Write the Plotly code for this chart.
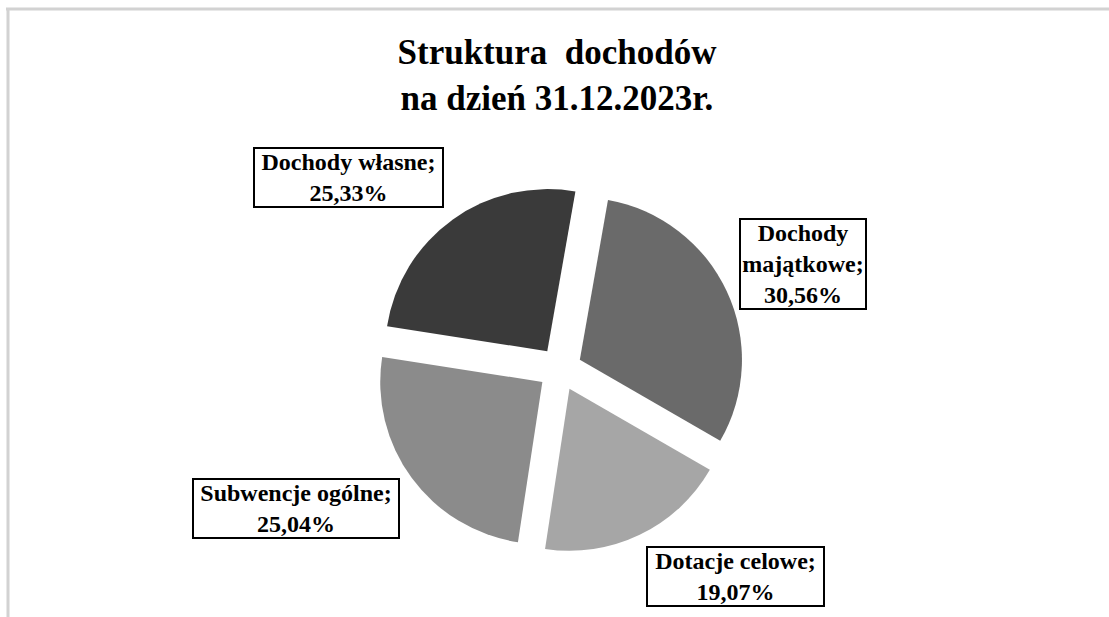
import plotly.graph_objects as go

# ---- data ----
categories = ["Dochody majątkowe", "Dotacje celowe", "Subwencje ogólne", "Dochody własne"]
category_display = ["Dochody<br>majątkowe", "Dotacje celowe", "Subwencje ogólne", "Dochody własne"]
shares = [30.56, 19.07, 25.04, 25.33]
colors = ["#6a6a6a", "#a6a6a6", "#8b8b8b", "#3a3a3a"]
title_lines = ["Struktura  dochodów", "na dzień 31.12.2023r."]

W, H = 1109, 617
SERIF = "Times New Roman, Liberation Serif, serif"

def px(x):
    return x / W

def py(y):
    return 1 - y / H

fig = go.Figure()
fig.add_trace(go.Pie(
    labels=categories,
    values=shares,
    sort=False,
    direction="clockwise",
    rotation=10,
    pull=[0.135] * len(shares),
    marker=dict(colors=colors, line=dict(width=0)),
    textinfo="none",
    hoverinfo="label+percent",
    showlegend=False,
    domain=dict(x=[px(376), px(744)], y=[py(553), py(185)]),
))

# label boxes (center positions in pixels)
label_pos = [(803, 264, 128), (735.5, 576.5, 179), (296, 508, 208), (348.5, 177.5, 191)]
annotations = []
for disp, v, (cx, cy, bw) in zip(category_display, shares, label_pos):
    txt = f"{disp};<br>{v:.2f}".replace(".", ",") + "%"
    annotations.append(dict(
        text=txt, x=px(cx), y=py(cy), xref="paper", yref="paper",
        xanchor="center", yanchor="middle", showarrow=False,
        font=dict(family=SERIF, size=24, color="#000000", weight="bold"),
        bordercolor="#000000", borderwidth=2, borderpad=0,
        bgcolor="#ffffff", width=bw - 4, align="center",
    ))

fig.update_layout(
    width=W, height=H,
    margin=dict(l=0, r=0, t=0, b=0),
    paper_bgcolor="#ffffff",
    plot_bgcolor="#ffffff",
    title=dict(
        text="<br>".join(title_lines),
        x=px(557), xanchor="center", y=py(64), yanchor="middle",
        font=dict(family=SERIF, size=35, color="#000000", weight="bold"),
    ),
    annotations=annotations,
    shapes=[
        dict(type="line", xref="paper", yref="paper", x0=px(6), x1=1, y0=py(9), y1=py(9),
             line=dict(color="#d2d2d2", width=3)),
        dict(type="line", xref="paper", yref="paper", x0=px(8), x1=px(8), y0=py(9), y1=0,
             line=dict(color="#d2d2d2", width=3)),
    ],
)

fig.write_html("out.html")
